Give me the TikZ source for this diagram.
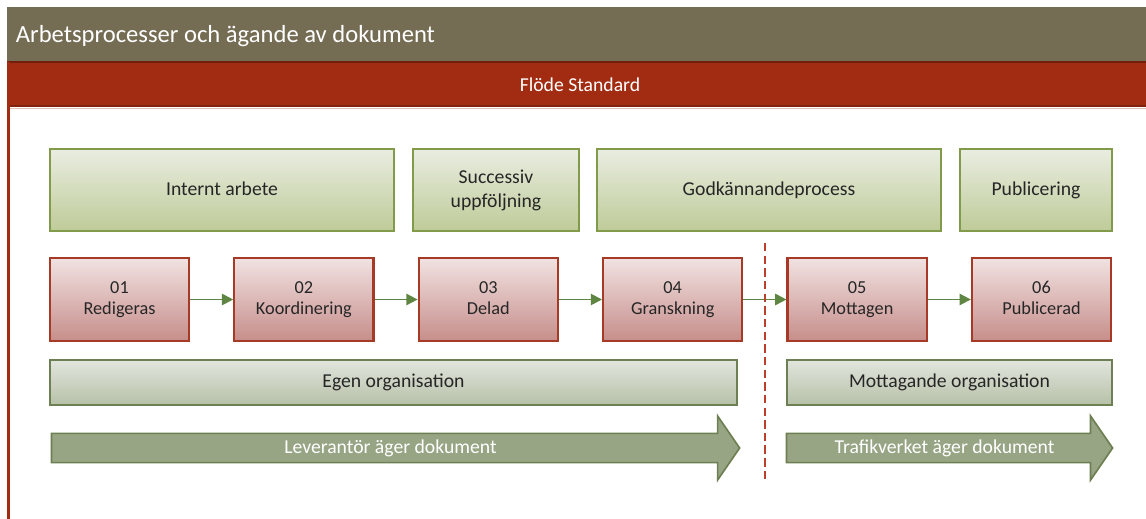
\documentclass[tikz,border=0pt]{standalone}
\usepackage{fontspec}
\setmainfont{Carlito}
\usetikzlibrary{shapes.arrows,arrows.meta}

\definecolor{headolive}{RGB}{117,108,84}
\definecolor{flowred}{RGB}{162,44,18}
\definecolor{phasetop}{RGB}{233,237,225}
\definecolor{phasebot}{RGB}{190,203,152}
\definecolor{phaseline}{RGB}{130,155,75}
\definecolor{steptop}{RGB}{241,226,226}
\definecolor{stepbot}{RGB}{198,142,138}
\definecolor{stepline}{RGB}{166,58,38}
\definecolor{orgtop}{RGB}{226,229,221}
\definecolor{orgbot}{RGB}{182,193,168}
\definecolor{orgline}{RGB}{108,128,84}
\definecolor{ownfill}{RGB}{151,165,133}
\definecolor{ownline}{RGB}{110,128,82}
\definecolor{flowgreen}{RGB}{94,133,66}
\definecolor{cutred}{RGB}{186,64,44}

\tikzset{
  phasebox/.style={draw=phaseline, line width=1.4pt, top color=phasetop, bottom color=phasebot,
    minimum height=2.05cm, align=center, text=black!85, font=\fontsize{14}{17}\selectfont,
    execute at end node=\vphantom{g}},
  stepbox/.style={draw=stepline, line width=1.5pt, top color=steptop, bottom color=stepbot,
    minimum width=3.48cm, minimum height=2.075cm, align=center, text=black!85,
    font=\fontsize{13}{14.6}\selectfont, execute at end node=\vphantom{g}},
  orgbar/.style={draw=orgline, line width=1.3pt, top color=orgtop, bottom color=orgbot,
    minimum height=1.125cm, text=black!85, font=\fontsize{14}{17}\selectfont},
  ownarrow/.style={single arrow, draw=ownline, fill=ownfill, line width=1.2pt,
    minimum width=1.6cm, single arrow head extend=0.3625cm, single arrow tip angle=111,
    inner sep=2pt, text=white, font=\fontsize{14}{17}\selectfont},
  flow/.style={draw=flowgreen, line width=1.3pt, -{Triangle[length=8pt,width=8pt]}}
}

\begin{document}
\begin{tikzpicture}[x=0.025cm, y=-0.025cm]

  \useasboundingbox[fill=white] (0,0) rectangle (1146,519);

  % frame and header bars
  \fill[headolive] (7,7) rectangle (1146,62);
  \fill[flowred] (7,62) rectangle (1146,107);
  \draw[flowred!70!black, line width=0.8pt] (7,62) -- (1146,62);
  \draw[flowred!80!black, line width=0.8pt] (7,106) -- (1146,106);
  \draw[flowred!30, line width=0.8pt] (10,108.5) -- (1146,108.5);
  \draw[flowred, line width=2.2pt] (8.5,62) -- (8.5,519);

  \node[anchor=west, text=white, font=\fontsize{17.5}{20}\selectfont] (title) at (11,36) {Arbetsprocesser och ägande av dokument};
  \node[text=white, font=\fontsize{14}{17}\selectfont] (flode) at (580,85) {Flöde Standard};

  % phases
  \node[phasebox, minimum width=8.6cm] (intern) at (222,190) {Internt arbete};
  \node[phasebox, minimum width=4.15cm] (succ) at (496,190) {Successiv\\uppföljning};
  \node[phasebox, minimum width=8.6cm] (godk) at (769,190) {Godkännandeprocess};
  \node[phasebox, minimum width=3.8cm] (publ) at (1036,190) {Publicering};

  % status steps
  \foreach \nr/\txt [count=\i] in {01/Redigeras, 02/Koordinering, 03/Delad, 04/Granskning, 05/Mottagen, 06/Publicerad}
    \node[stepbox] (s\i) at ({119.5+(\i-1)*184.4},299.5) {\nr\\\txt};

  \foreach \a/\b in {1/2, 2/3, 3/4, 4/5, 5/6}
    \draw[flow] (s\a) -- (s\b);

  % ownership split
  \draw[cutred, line width=1.1pt, dash pattern=on 6pt off 3pt] (765,243) -- (765,480);

  % organisations
  \node[orgbar, minimum width=17.175cm] (egen) at (393.5,382.5) {Egen organisation};
  \node[orgbar, minimum width=8.125cm] (mott) at (949.5,382.5) {Mottagande organisation};

  % document owner
  \node[ownarrow, minimum height=17.2cm] (lev) at (390.5,448) {Leverantör äger dokument};
  \node[ownarrow, minimum height=8.15cm] (trv) at (944.5,448) {Trafikverket äger dokument};

\end{tikzpicture}
\end{document}
